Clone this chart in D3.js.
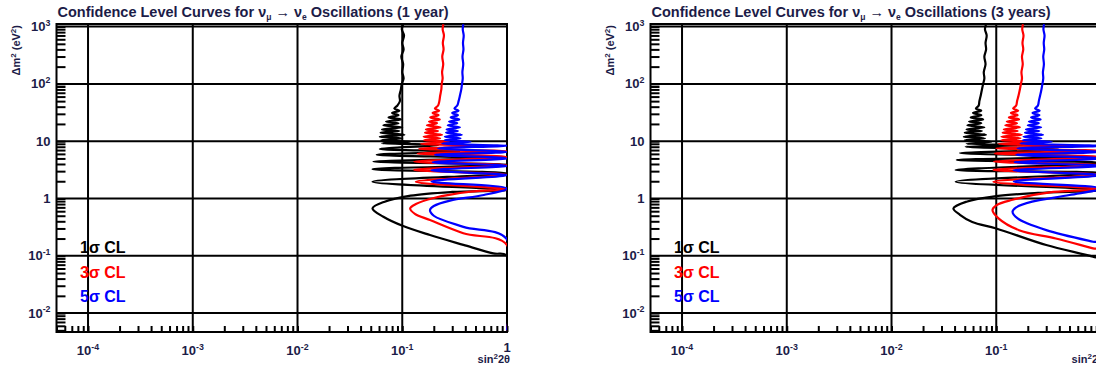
<!DOCTYPE html>
<html>
<head>
<meta charset="utf-8">
<script src="https://cdn.jsdelivr.net/npm/d3@7"></script>
<style>
    body { margin: 0; background: #fff; overflow: hidden; }
    svg { display: block; }
    text { font-family: "Liberation Sans", Arial, sans-serif; font-weight: bold; }
</style>
</head>
<body>
<svg id="chart" width="1096" height="367"></svg>
<script>
// axis decades and their labels [base, exponent]
const xDecades = [1e-4, 1e-3, 1e-2, 1e-1, 1];
const xLabels = [["10", "-4"], ["10", "-3"], ["10", "-2"], ["10", "-1"], ["1", ""]];
const yDecades = [1e3, 1e2, 10, 1, 0.1, 0.01];
const yLabels = [["10", "3"], ["10", "2"], ["10", ""], ["1", ""], ["10", "-1"], ["10", "-2"]];

const titleSuffixes = ["(1 year)", "(3 years)"];
const legendLabels = ["1\u03c3 CL", "3\u03c3 CL", "5\u03c3 CL"];
const curveColors = ["#000000", "#ff0000", "#0000ff"];

// contour points [sin^2 2theta, dm^2]
const oneYear1s = [
    [0.102,1100],[0.099,900],[0.104,700],[0.100,520],[0.103,400],[0.098,300],[0.102,220],[0.100,160],[0.103,125],[0.099,100],[0.097,80],[0.094,62],[0.095,50],[0.090,42],
    [0.084,37],[0.094,34],[0.080,31],[0.092,28.5],[0.074,26],[0.097,24],[0.070,22],[0.092,20.5],[0.066,19],[0.100,17.5],[0.064,16],[0.094,15],[0.062,14],[0.105,13],[0.061,12],[0.100,11.2],[0.063,10.4],[0.12,9.8],
    [0.064,9.2],[0.22,8.6],[0.061,7.3],[0.35,6.6],[0.057,5.8],[0.6,5.1],[0.053,4.4],[1.0,3.9],[0.052,3.25],[1.0,2.75],[0.052,1.96],[1.0,1.4],
    [0.3,1.3],[0.12,1.12],[0.068,0.88],[0.052,0.67],[0.066,0.48],[0.102,0.33],[0.184,0.23],[0.383,0.155],[0.74,0.11],[1.0,0.1],[1.0,0.005]
];
const oneYear3s = [
    [0.247,1100],[0.243,900],[0.250,700],[0.244,520],[0.248,400],[0.241,300],[0.246,220],[0.240,160],[0.243,125],[0.238,100],[0.236,80],[0.230,62],[0.226,50],[0.220,42],
    [0.205,37],[0.225,34],[0.195,31],[0.222,28.5],[0.185,26],[0.228,24],[0.180,22],[0.215,20.5],[0.172,19],[0.232,17.5],[0.168,16],[0.220,15],[0.165,14],[0.240,13],[0.160,12],[0.230,11.2],[0.162,10.4],[0.28,9.8],
    [0.15,9.0],[0.6,8.3],[0.145,7.4],[1.0,6.7],[0.14,6.1],[1.0,5.3],[0.13,4.4],[1.0,3.8],[0.13,3.15],[1.0,2.6],[0.135,1.96],[1.0,1.45],
    [0.45,1.32],[0.2,1.02],[0.135,0.8],[0.119,0.67],[0.132,0.54],[0.184,0.42],[0.383,0.247],[1.0,0.154],[1.0,0.005]
];
const oneYear5s = [
    [0.383,1100],[0.378,900],[0.386,700],[0.380,520],[0.384,400],[0.376,300],[0.382,220],[0.375,160],[0.378,125],[0.372,100],[0.366,80],[0.355,62],[0.345,50],[0.335,42],
    [0.315,37],[0.345,34],[0.300,31],[0.340,28.5],[0.290,26],[0.350,24],[0.280,22],[0.335,20.5],[0.272,19],[0.355,17.5],[0.265,16],[0.340,15],[0.262,14],[0.37,13],[0.255,12],[0.36,11.2],[0.255,10.4],[0.45,9.8],
    [0.24,9.1],[1.0,8.3],[0.22,7.5],[1.0,6.5],[0.205,5.8],[1.0,5.0],[0.195,4.3],[1.0,3.7],[0.19,3.1],[1.0,2.55],[0.19,1.98],[1.0,1.5],
    [0.6,1.15],[0.286,0.92],[0.2,0.74],[0.184,0.63],[0.2,0.5],[0.383,0.32],[1.0,0.194],[1.0,0.005]
];
const threeYear1s = [
    [0.080,1100],[0.078,900],[0.081,700],[0.079,520],[0.080,400],[0.077,300],[0.079,220],[0.076,160],[0.077,125],[0.075,100],[0.073,80],[0.071,62],[0.069,50],[0.068,42],
    [0.064,37],[0.072,34],[0.060,31],[0.072,28.5],[0.057,26],[0.075,24],[0.055,22],[0.072,20.5],[0.053,19],[0.077,17.5],[0.052,16],[0.073,15],[0.050,14],[0.08,13],[0.049,12],[0.078,11.2],[0.050,10.4],[0.09,9.8],
    [0.052,9.0],[0.25,8.6],[0.051,8.0],[0.4,7.1],[0.045,6.2],[0.7,5.4],[0.042,4.7],[1.0,4.2],[0.041,3.15],[1.0,2.8],[0.041,1.96],[1.0,1.4],
    [0.25,1.25],[0.1,1.1],[0.052,0.88],[0.039,0.67],[0.045,0.52],[0.059,0.39],[0.1,0.3],[0.3,0.154],[0.84,0.096],[1.0,0.085],[1.0,0.005]
];
const threeYear3s = [
    [0.180,1100],[0.177,900],[0.182,700],[0.178,520],[0.181,400],[0.176,300],[0.179,220],[0.174,160],[0.176,125],[0.172,100],[0.168,80],[0.163,62],[0.158,50],[0.155,42],
    [0.145,37],[0.162,34],[0.138,31],[0.160,28.5],[0.132,26],[0.165,24],[0.126,22],[0.158,20.5],[0.122,19],[0.168,17.5],[0.118,16],[0.160,15],[0.115,14],[0.175,13],[0.112,12],[0.17,11.2],[0.112,10.4],[0.22,9.8],
    [0.105,9.0],[0.5,8.3],[0.1,7.5],[1.0,6.8],[0.097,6.1],[1.0,5.3],[0.095,4.4],[1.0,3.8],[0.094,3.15],[1.0,2.6],[0.094,1.96],[1.0,1.45],
    [0.35,1.3],[0.14,0.94],[0.1,0.76],[0.092,0.63],[0.105,0.45],[0.165,0.28],[0.37,0.2],[0.84,0.135],[1.0,0.125],[1.0,0.005]
];
const threeYear5s = [
    [0.286,1100],[0.282,900],[0.289,700],[0.284,520],[0.287,400],[0.281,300],[0.285,220],[0.279,160],[0.281,125],[0.276,100],[0.270,80],[0.262,62],[0.255,50],[0.250,42],
    [0.235,37],[0.260,34],[0.222,31],[0.258,28.5],[0.215,26],[0.265,24],[0.205,22],[0.255,20.5],[0.200,19],[0.268,17.5],[0.192,16],[0.258,15],[0.188,14],[0.28,13],[0.182,12],[0.27,11.2],[0.18,10.4],[0.34,9.8],
    [0.17,9.1],[1.0,8.3],[0.16,7.5],[1.0,6.5],[0.155,5.8],[1.0,5.0],[0.15,4.3],[1.0,3.7],[0.147,3.1],[1.0,2.55],[0.147,1.98],[1.0,1.5],
    [0.5,1.15],[0.22,0.88],[0.155,0.7],[0.143,0.59],[0.16,0.45],[0.3,0.28],[0.84,0.176],[1.0,0.165],[1.0,0.005]
];

const panels = [
    { left: 56.5, suffix: titleSuffixes[0], curves: [oneYear1s, oneYear3s, oneYear5s] },
    { left: 650.5, suffix: titleSuffixes[1], curves: [threeYear1s, threeYear3s, threeYear5s] }
];

const svg = d3.select("#chart");
const textColor = "#1c1c48";
const frameTop = 24, frameBottom = 332, frameW = 450.5;

function label(sel, base, exp, size) {
    sel.append("tspan").text(base);
    if (exp) {
        sel.append("tspan").attr("font-size", size * 0.68).attr("dy", -size * 0.42).text(exp);
    }
}

panels.forEach(function (p, i) {
    const x = d3.scaleLog().domain([5e-5, 1]).range([p.left, p.left + frameW]);
    const y = d3.scaleLog().domain([Math.pow(10, -2.33), Math.pow(10, 3.045)]).range([frameBottom, frameTop]);
    const g = svg.append("g");

    g.append("clipPath").attr("id", "clip" + i)
        .append("rect")
        .attr("x", p.left).attr("y", frameTop)
        .attr("width", frameW).attr("height", frameBottom - frameTop);

    // grid at decades
    g.selectAll(".vgrid").data(xDecades).enter().append("line")
        .attr("x1", d => x(d)).attr("x2", d => x(d))
        .attr("y1", frameTop).attr("y2", frameBottom)
        .attr("stroke", "#000").attr("stroke-width", 2);
    g.selectAll(".hgrid").data(yDecades).enter().append("line")
        .attr("x1", p.left).attr("x2", p.left + frameW)
        .attr("y1", d => y(d)).attr("y2", d => y(d))
        .attr("stroke", "#000").attr("stroke-width", 2);

    // ticks, inside the frame
    const yAxis = g.append("g")
        .attr("transform", "translate(" + p.left + ",0)")
        .call(d3.axisRight(y).tickValues(y.ticks()).tickSize(9).tickFormat(""));
    const xAxis = g.append("g")
        .attr("transform", "translate(0," + frameBottom + ")")
        .call(d3.axisTop(x).tickValues(x.ticks()).tickSize(6).tickFormat(""));
    [yAxis, xAxis].forEach(a => {
        a.select(".domain").remove();
        a.selectAll("line").attr("stroke", "#000").attr("stroke-width", 2);
    });

    // frame
    g.append("rect")
        .attr("x", p.left).attr("y", frameTop)
        .attr("width", frameW).attr("height", frameBottom - frameTop)
        .attr("fill", "none").attr("stroke", "#000").attr("stroke-width", 2);

    // curves
    const line = d3.line()
        .x(d => x(d[0]))
        .y(d => y(d[1]))
        .curve(d3.curveCatmullRom.alpha(0.5));
    g.append("g").attr("clip-path", "url(#clip" + i + ")")
        .selectAll("path").data(p.curves).enter().append("path")
        .attr("d", line)
        .attr("fill", "none")
        .attr("stroke", (d, k) => curveColors[k])
        .attr("stroke-width", 2.2)
        .attr("stroke-linejoin", "round");

    // tick labels
    yDecades.forEach(function (v, k) {
        const t = g.append("text")
            .attr("x", p.left - 6).attr("y", y(v) + 4.5)
            .attr("text-anchor", "end")
            .attr("font-size", 13).attr("fill", textColor);
        label(t, yLabels[k][0], yLabels[k][1], 13);
    });
    xDecades.forEach(function (v, k) {
        const t = g.append("text")
            .attr("x", x(v)).attr("y", v === 1 ? 352 : 355)
            .attr("text-anchor", "middle")
            .attr("font-size", 13).attr("fill", textColor);
        label(t, xLabels[k][0], xLabels[k][1], 13);
    });

    // axis titles
    const yt = g.append("text")
        .attr("transform", "translate(" + (p.left - 37) + "," + (frameTop + 1) + ") rotate(-90)")
        .attr("text-anchor", "end").attr("font-size", 11).attr("fill", textColor);
    yt.append("tspan").text("\u0394m");
    yt.append("tspan").attr("font-size", 8).attr("dy", -4).text("2");
    yt.append("tspan").attr("dy", 4).text(" (eV");
    yt.append("tspan").attr("font-size", 8).attr("dy", -4).text("2");
    yt.append("tspan").attr("dy", 4).text(")");

    const xt = g.append("text")
        .attr("x", p.left + frameW + 3).attr("y", 363)
        .attr("text-anchor", "end").attr("font-size", 11).attr("fill", textColor);
    xt.append("tspan").text("sin");
    xt.append("tspan").attr("font-size", 8).attr("dy", -4).text("2");
    xt.append("tspan").attr("dy", 4).text("2\u03b8");

    // title
    const tt = g.append("text")
        .attr("x", p.left + 1).attr("y", 17)
        .attr("font-size", 14.5).attr("fill", textColor);
    tt.append("tspan").text("Confidence Level Curves for \u03bd");
    tt.append("tspan").attr("font-size", 8.5).attr("dy", 3).text("\u03bc");
    tt.append("tspan").attr("dy", -3).text(" \u2192 \u03bd");
    tt.append("tspan").attr("font-size", 8.5).attr("dy", 3).text("e");
    tt.append("tspan").attr("dy", -3).text(" Oscillations " + p.suffix);

    // legend
    legendLabels.forEach(function (txt, k) {
        g.append("text")
            .attr("x", p.left + 23.5).attr("y", 253 + k * 24.5)
            .attr("font-size", 16).attr("fill", curveColors[k])
            .text(txt);
    });
});
</script>
</body>
</html>
